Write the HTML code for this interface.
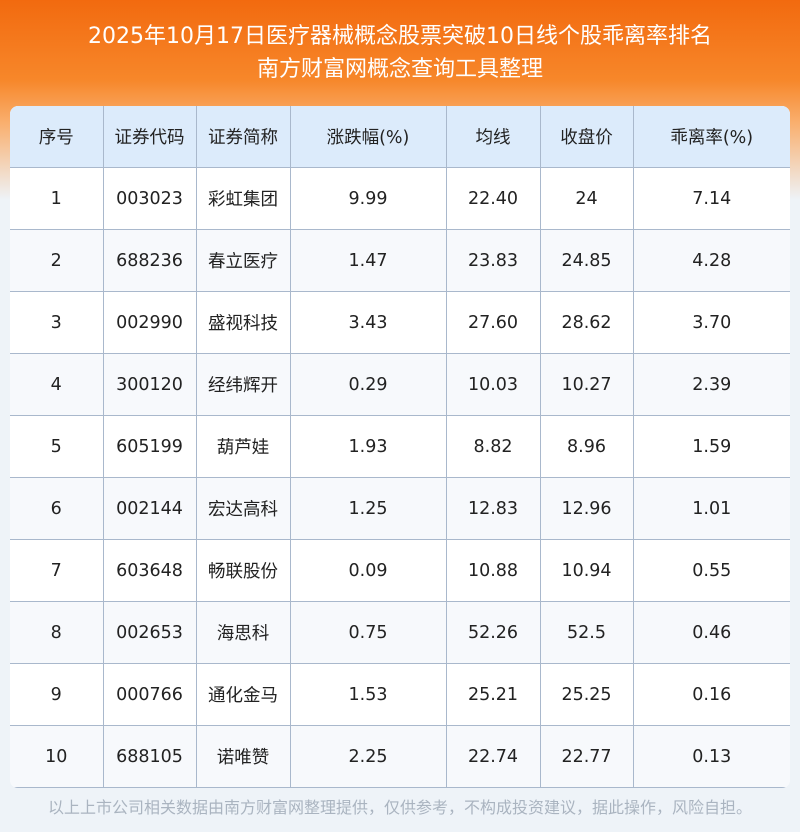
<!DOCTYPE html>
<html><head><meta charset="utf-8"><style>
body{margin:0;width:800px;height:832px;background:#eef3f8;font-family:"DejaVu Sans","Noto Sans CJK SC",sans-serif;position:relative;overflow:hidden}
.bg{position:absolute;left:0;top:0;width:800px;height:200px;background:linear-gradient(180deg,#f26a0f 0%,#f7872a 40%,#f9b070 62%,#eef3f8 100%)}
.t{position:absolute;left:0;width:800px;text-align:center;color:#fff;font-size:22px;line-height:26px}
table{position:absolute;left:10px;top:106px;width:780px;table-layout:fixed;border-collapse:collapse;background:#fff;border-radius:8px;overflow:hidden;font-size:17.5px;color:#222}
td,th{border:1px solid #a9b8cc;text-align:center;height:61px;padding:0;font-weight:normal}
tr:first-child th{border-top:none}
th:first-child,td:first-child{border-left:none}
th:last-child,td:last-child{border-right:none}
th{background:#dcebfb}
tr:nth-child(odd) td{background:#f7f9fc}
.f{position:absolute;top:794px;left:0;width:800px;text-align:center;color:#aab4c0;font-size:16px}
</style></head><body>
<div class="bg"></div>
<div class="t" style="top:24px">2025年10月17日医疗器械概念股票突破10日线个股乖离率排名</div>
<div class="t" style="top:57px">南方财富网概念查询工具整理</div>
<table>
<colgroup><col style="width:93px"><col style="width:93px"><col style="width:94px"><col style="width:156px"><col style="width:94px"><col style="width:93px"><col style="width:157px"></colgroup>
<tr><th>序号</th><th>证券代码</th><th>证券简称</th><th>涨跌幅(%)</th><th>均线</th><th>收盘价</th><th>乖离率(%)</th></tr>
<tr><td>1</td><td>003023</td><td>彩虹集团</td><td>9.99</td><td>22.40</td><td>24</td><td>7.14</td></tr>
<tr><td>2</td><td>688236</td><td>春立医疗</td><td>1.47</td><td>23.83</td><td>24.85</td><td>4.28</td></tr>
<tr><td>3</td><td>002990</td><td>盛视科技</td><td>3.43</td><td>27.60</td><td>28.62</td><td>3.70</td></tr>
<tr><td>4</td><td>300120</td><td>经纬辉开</td><td>0.29</td><td>10.03</td><td>10.27</td><td>2.39</td></tr>
<tr><td>5</td><td>605199</td><td>葫芦娃</td><td>1.93</td><td>8.82</td><td>8.96</td><td>1.59</td></tr>
<tr><td>6</td><td>002144</td><td>宏达高科</td><td>1.25</td><td>12.83</td><td>12.96</td><td>1.01</td></tr>
<tr><td>7</td><td>603648</td><td>畅联股份</td><td>0.09</td><td>10.88</td><td>10.94</td><td>0.55</td></tr>
<tr><td>8</td><td>002653</td><td>海思科</td><td>0.75</td><td>52.26</td><td>52.5</td><td>0.46</td></tr>
<tr><td>9</td><td>000766</td><td>通化金马</td><td>1.53</td><td>25.21</td><td>25.25</td><td>0.16</td></tr>
<tr><td>10</td><td>688105</td><td>诺唯赞</td><td>2.25</td><td>22.74</td><td>22.77</td><td>0.13</td></tr>
</table>
<div class="f">以上上市公司相关数据由南方财富网整理提供，仅供参考，不构成投资建议，据此操作，风险自担。</div>
</body></html>
